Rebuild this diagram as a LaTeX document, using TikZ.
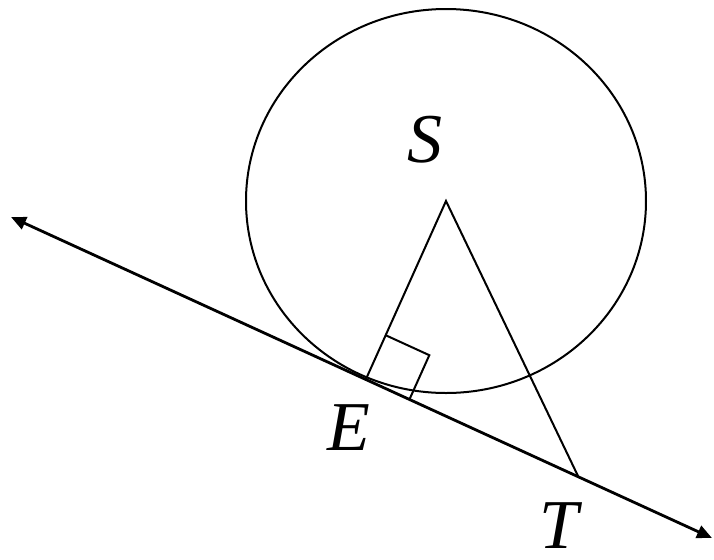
\documentclass[tikz,border=0pt]{standalone}
\usepackage{fontspec}
\setmainfont{Liberation Serif}
\usetikzlibrary{arrows.meta, calc}
\tikzset{
  geo/.style  = {draw=black, line width=1pt},
  tang/.style = {{Triangle[length=7.5pt, width=6.5pt]}-{Triangle[length=7.5pt, width=6.5pt]},
                 draw=black, line width=1.4pt},
  lbl/.style  = {font=\fontsize{35}{40}\selectfont\itshape, inner sep=0pt}
}

\begin{document}
\begin{tikzpicture}[x=0.5pt, y=-0.5pt]
  \useasboundingbox (0,0) rectangle (714,559);

  \coordinate (S) at (446,201);
  \coordinate (E) at (366,379);
  \coordinate (T) at (578,476);
  \coordinate (L) at (11,217);
  \coordinate (R) at (712,538);

  \draw[geo] (S) ellipse [x radius=100pt, y radius=96pt];
  \draw[tang] (L) -- (R);
  \draw[geo] (E) -- (S) -- (T);

  % right angle at E
  \coordinate (rA) at ($(E)!24pt!(S)$);
  \coordinate (rC) at ($(E)!24pt!(T)$);
  \coordinate (rB) at ($(rA)+(rC)-(E)$);
  \draw[geo] (rA) -- (rB) -- (rC);

  \node[lbl] (labS) at (425,140) {S};
  \node[lbl] (labE) at (349,428) {E};
  \node[lbl] (labT) at (559,526) {T};
\end{tikzpicture}
\end{document}
